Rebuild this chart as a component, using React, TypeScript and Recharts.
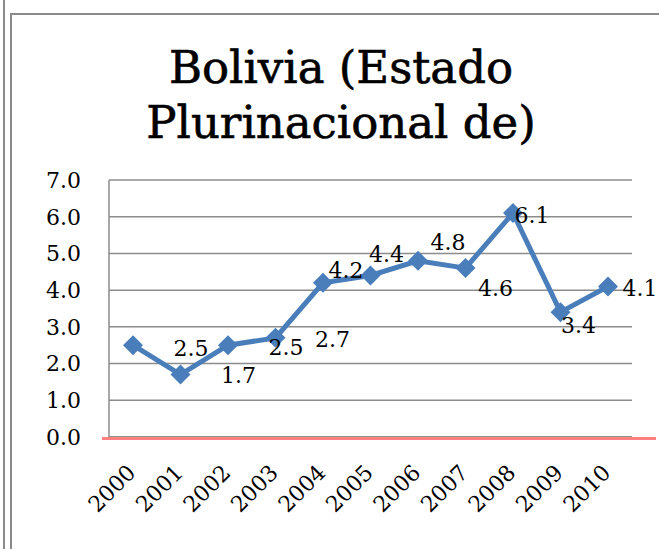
import { LineChart, Line, XAxis, YAxis, CartesianGrid, LabelList } from 'recharts';

const years = ['2000', '2001', '2002', '2003', '2004', '2005', '2006', '2007', '2008', '2009', '2010'];
const values = [2.5, 1.7, 2.5, 2.7, 4.2, 4.4, 4.8, 4.6, 6.1, 3.4, 4.1];
const yTicks = [0, 1, 2, 3, 4, 5, 6, 7];

// where Excel put each data label, relative to its point
const labelOffsets: [number, number][] = [
  [58, 3], [58, 1], [58, 2], [57, 2], [23, -12], [16, -21],
  [30, -18], [30, 20], [19, 2], [18, 13], [32, 2],
];

const data = years.map((year, i) => ({ year, value: values[i] }));

const FONT = '"DejaVu Serif", serif';
const BLUE = '#4A7EBB';

const Diamond = (props: any) => {
  const { cx, cy } = props;
  if (cx == null || cy == null) return null;
  const r = 10;
  return <polygon points={`${cx},${cy - r} ${cx + r},${cy} ${cx},${cy + r} ${cx - r},${cy}`} fill={BLUE} />;
};

const PointLabel = (props: any) => {
  const { x, y, value, index } = props;
  const [dx, dy] = labelOffsets[index] || [0, 0];
  return (
    <text x={x + dx} y={y + dy} textAnchor="middle" dominantBaseline="central" fontFamily={FONT} fontSize={22} fill="#000">
      {Number(value).toFixed(1)}
    </text>
  );
};

const YearTick = (props: any) => {
  const { x, y, payload } = props;
  return (
    <text transform={`translate(${x + 4}, ${y + 29}) rotate(-45)`} textAnchor="end" fontFamily={FONT} fontSize={22} fill="#000">
      {payload.value}
    </text>
  );
};

export default function App() {
  return (
    <div style={{ position: 'absolute', left: 0, top: 0, width: 659, height: 549, background: '#fff', overflow: 'hidden' }}>
      {/* chart frame */}
      <div style={{ position: 'absolute', left: 3, top: 0, width: 2, height: 549, background: '#8a8a8a' }} />
      <div style={{ position: 'absolute', left: 10, top: 13, width: 2, height: 536, background: '#8a8a8a' }} />
      <div style={{ position: 'absolute', left: 10, top: 13, width: 649, height: 2, background: '#8a8a8a' }} />

      <svg width={659} height={549} style={{ position: 'absolute', left: 0, top: 0 }}>
        <text x={341} y={83} textAnchor="middle" fontFamily={FONT} fontSize={45} fill="#000" stroke="#000" strokeWidth={0.6}>Bolivia (Estado</text>
        <text x={341} y={138} textAnchor="middle" fontFamily={FONT} fontSize={45} fill="#000" stroke="#000" strokeWidth={0.6}>Plurinacional de)</text>
      </svg>

      <div style={{ position: 'absolute', left: 0, top: 0 }}>
        <LineChart width={659} height={549} data={data} margin={{ top: 180, right: 27, left: 0, bottom: 0 }}>
          <CartesianGrid vertical={false} stroke="#8c8c8c" strokeWidth={1.5} />
          <XAxis
            dataKey="year"
            height={112}
            padding={{ left: 24, right: 24 }}
            tickLine={false}
            axisLine={{ stroke: '#8c8c8c', strokeWidth: 1.5 }}
            tick={<YearTick />}
            interval={0}
          />
          <YAxis
            width={109}
            domain={[0, 7]}
            ticks={yTicks}
            tickLine={false}
            axisLine={{ stroke: '#8c8c8c', strokeWidth: 1.5 }}
            tickFormatter={(v: number) => v.toFixed(1)}
            tick={{ fontFamily: FONT, fontSize: 22, fill: '#000' }}
            tickMargin={22}
          />
          <Line
            type="linear"
            dataKey="value"
            stroke={BLUE}
            strokeWidth={5}
            dot={<Diamond />}
            activeDot={false}
            isAnimationActive={false}
          >
            <LabelList dataKey="value" content={<PointLabel />} />
          </Line>
        </LineChart>
      </div>

      {/* pink baseline under the category axis */}
      <div style={{ position: 'absolute', left: 102, top: 437, width: 554, height: 3, background: '#FF8080' }} />
    </div>
  );
}
